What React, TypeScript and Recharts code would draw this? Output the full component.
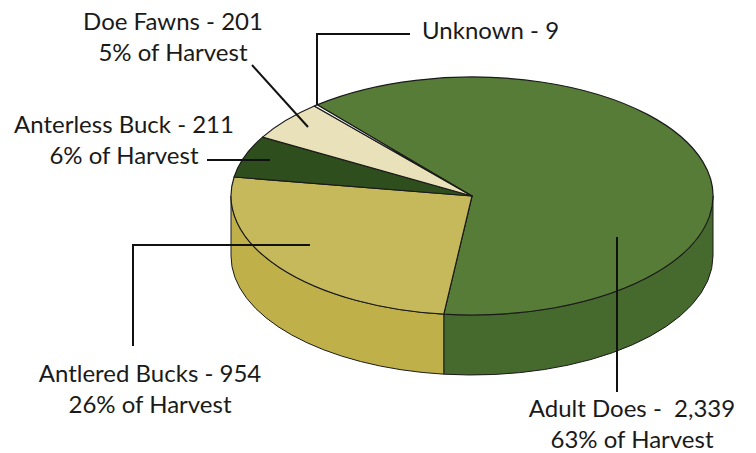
import React from 'react';
import { PieChart, Pie, Cell } from 'recharts';

// harvest by category
const categories = ['Adult Does', 'Antlered Bucks', 'Anterless Buck', 'Doe Fawns', 'Unknown'];
const harvest = [2339, 954, 211, 201, 9];
const topColors = ['#567c37', '#c6b95b', '#2f4e1e', '#e9e1b9', '#ffffff'];
const sideColors = ['#466a2d', '#bfb04a', '#2a4519', '#d8cfa4', '#eeeeee'];

// leader lines + text placement for each slice
const labelLayout: any[] = [
  { line: [[617, 237], [617, 392]], x: 632, y: 417, anchor: 'middle', sep: '  ' },
  { line: [[310, 245], [133, 245], [133, 346]], x: 150, y: 382, anchor: 'middle' },
  { line: [[270, 160], [207, 160]], x: 124, y: 133, anchor: 'middle' },
  { line: [[308, 127], [252, 65]], x: 173, y: 30, anchor: 'middle' },
  { line: [[317, 105], [317, 34], [410, 34]], x: 422, y: 39, anchor: 'start', noPct: true },
];

const data = categories.map((name, i) => ({ name, value: harvest[i] }));

const RX = 241;
const RY = 119;
const DEPTH = 60;
const FONT = 'Lato, sans-serif';

const pt = (cx: number, cy: number, rx: number, ry: number, a: number) => {
  const r = (a * Math.PI) / 180;
  return [cx + rx * Math.cos(r), cy - ry * Math.sin(r)];
};

// draws the slice as a tilted (elliptical) 3d wedge, then its callout
const renderSlice = (props: any) => {
  const { cx, cy, outerRadius, startAngle, endAngle, index, percent } = props;
  const ry = outerRadius;
  const rx = (outerRadius * RX) / RY;
  const hi = Math.max(startAngle, endAngle);
  const lo = Math.min(startAngle, endAngle);
  const a = pt(cx, cy, rx, ry, hi);
  const b = pt(cx, cy, rx, ry, lo);
  const large = hi - lo > 180 ? 1 : 0;
  const top = `M${cx},${cy} L${a[0]},${a[1]} A${rx},${ry} 0 ${large} 1 ${b[0]},${b[1]} Z`;

  // visible side wall = the part of the arc on the front (lower) half
  const sides: string[] = [];
  for (let k = -2; k <= 1; k++) {
    const s = Math.max(lo, -180 + 360 * k);
    const e = Math.min(hi, 360 * k);
    if (e > s) {
      const p1 = pt(cx, cy, rx, ry, e);
      const p2 = pt(cx, cy, rx, ry, s);
      sides.push(
        `M${p1[0]},${p1[1]} A${rx},${ry} 0 0 1 ${p2[0]},${p2[1]} L${p2[0]},${p2[1] + DEPTH} A${rx},${ry} 0 0 0 ${p1[0]},${p1[1] + DEPTH} Z`
      );
    }
  }

  const lay = labelLayout[index];
  const name = categories[index];
  const value = harvest[index].toLocaleString('en-US');
  const pts = lay.line.map((p: number[]) => p.join(',')).join(' ');

  return (
    <g key={`slice-${index}`}>
      {sides.map((d, i) => (
        <path key={i} d={d} fill={sideColors[index]} stroke="#1a1a1a" strokeWidth={1} />
      ))}
      <path d={top} fill={topColors[index]} stroke="#1a1a1a" strokeWidth={1.2} strokeLinejoin="round" />
      <polyline points={pts} fill="none" stroke="#111" strokeWidth={2} />
      <text
        x={lay.x}
        y={lay.y}
        textAnchor={lay.anchor}
        fontFamily={FONT}
        fontSize={24}
        fill="#1a1a1a"
        style={{ whiteSpace: 'pre' }}
      >
        {`${name} -${lay.sep || ' '}${value}`}
      </text>
      {!lay.noPct && (
        <text x={lay.x} y={lay.y + 31} textAnchor={lay.anchor} fontFamily={FONT} fontSize={24} fill="#1a1a1a">
          {`${Math.round(percent * 100)}% of Harvest`}
        </text>
      )}
    </g>
  );
};

export default function App() {
  return (
    <div style={{ position: 'absolute', left: 0, top: 0, background: '#fff' }}>
      <PieChart width={756} height={453} margin={{ top: 0, right: 0, bottom: 0, left: 0 }}>
        <Pie
          data={data}
          dataKey="value"
          nameKey="name"
          cx={472}
          cy={196}
          outerRadius={RY}
          startAngle={130}
          endAngle={-230}
          stroke="none"
          label={renderSlice}
          labelLine={false}
          isAnimationActive={false}
        >
          {data.map((entry, index) => (
            <Cell key={`cell-${index}`} fill="none" stroke="none" />
          ))}
        </Pie>
      </PieChart>
    </div>
  );
}
